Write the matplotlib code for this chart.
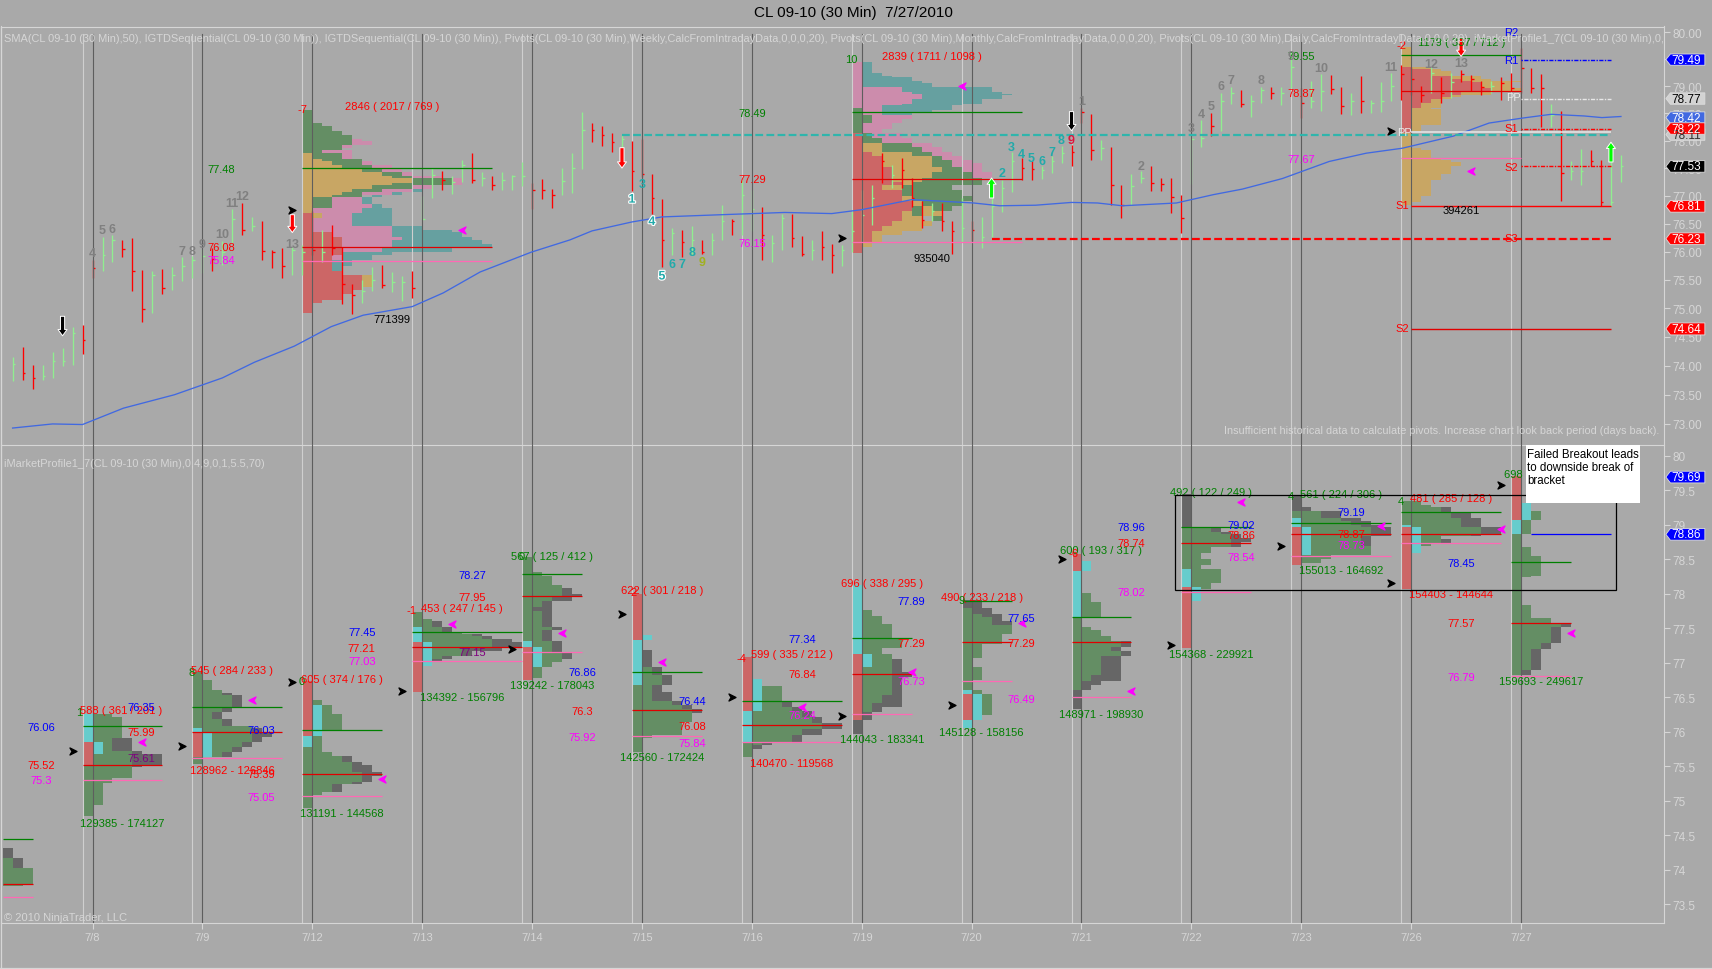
# =====================================================
# CL 09-10 (30 Min) chart with market profiles
# =====================================================

import matplotlib
matplotlib.use("Agg")
import matplotlib.pyplot as plt
import matplotlib.patheffects as pe
from matplotlib.lines import Line2D
from matplotlib.path import Path
from matplotlib.patches import Polygon, Rectangle
from matplotlib.ticker import NullLocator

plt.rcParams['font.family'] = ['Liberation Sans', 'DejaVu Sans']

# =====================================================
# Data: 30 min bars (bar index = position in the list)
# =====================================================

bar_high = [74.15, 74.33, 74.01, 74.01, 74.23, 74.30, 74.68, 74.70, 75.86, 76.27, 76.29, 76.21, 76.24, 75.67, 75.66,
            75.69, 75.72, 75.90, 75.93, 76.05, 76.06, 76.19, 76.76, 76.87, 76.62, 76.54, 76.03, 76.07, 76.09, 76.12,
            76.72, 76.39, 76.47, 76.09, 75.42, 75.50, 75.72, 75.77, 75.64, 75.57, 75.65, 76.99, 77.50, 77.44, 77.35,
            77.64, 77.77, 77.43, 77.35, 77.43, 77.38, 77.61, 77.23, 77.31, 77.12, 77.51, 77.77, 78.53, 78.32, 78.26,
            78.14, 78.11, 78.00, 78.03, 77.40, 76.94, 76.42, 76.38, 76.45, 76.21, 76.33, 76.83, 76.59, 77.29, 77.11,
            76.79, 76.30, 76.67, 76.67, 76.28, 76.21, 76.36, 76.13, 76.12, 76.72, 77.11, 77.20, 77.77, 77.56, 77.69,
            77.32, 76.90, 76.87, 76.87, 76.54, 76.96, 76.54, 76.61, 76.96, 77.29, 77.80, 77.68, 77.62, 77.53, 77.71,
            77.91, 77.92, 78.59, 78.48, 78.01, 77.89, 77.19, 77.40, 77.44, 77.53, 77.32, 77.32, 77.02, 78.08, 78.37,
            78.50, 78.88, 78.98, 78.92, 78.83, 78.98, 78.98, 78.98, 79.63, 78.96, 79.10, 79.22, 79.20, 78.99, 78.88,
            79.19, 78.74, 79.08, 79.25, 79.39, 79.36, 79.01, 79.36, 79.17, 79.24, 79.30, 79.20, 79.09, 79.09, 79.17,
            79.25, 79.71, 79.33, 79.22, 78.67, 78.55, 77.63, 77.84, 77.82, 77.65, 77.61, 77.73]
bar_low = [73.73, 73.75, 73.60, 73.75, 73.78, 73.99, 74.02, 74.21, 75.54, 75.65, 75.82, 75.90, 75.30, 74.76, 74.92,
           75.25, 75.33, 75.48, 75.54, 75.62, 75.66, 75.77, 76.16, 76.29, 76.37, 75.86, 75.71, 75.54, 75.59, 75.59,
           75.94, 75.82, 75.94, 75.08, 74.90, 75.09, 75.30, 75.36, 75.28, 75.12, 75.19, 76.59, 76.96, 77.10, 77.04,
           77.25, 77.23, 77.18, 77.11, 77.11, 77.11, 77.17, 76.77, 76.95, 76.78, 77.02, 77.05, 77.48, 77.97, 77.90,
           77.80, 77.86, 77.08, 77.34, 76.67, 75.72, 75.94, 75.91, 75.94, 75.95, 75.94, 76.20, 76.29, 76.30, 76.36,
           75.86, 75.82, 76.03, 76.08, 75.93, 75.86, 75.86, 75.62, 75.75, 76.00, 76.18, 76.48, 77.23, 77.14, 77.14,
           76.79, 76.42, 76.54, 76.36, 75.96, 76.18, 76.19, 76.06, 76.27, 76.71, 77.07, 77.29, 77.29, 77.31, 77.41,
           77.59, 77.54, 78.32, 77.64, 77.65, 76.84, 76.60, 76.83, 77.23, 77.09, 77.09, 76.69, 76.33, 77.21, 77.88,
           78.09, 78.18, 78.67, 78.61, 78.43, 78.69, 78.76, 78.66, 78.96, 78.41, 78.59, 78.55, 78.85, 78.49, 78.47,
           78.50, 78.50, 78.53, 78.72, 78.75, 78.84, 78.70, 78.87, 78.68, 78.78, 79.08, 78.90, 78.84, 78.87, 78.74,
           78.90, 78.87, 78.88, 78.24, 78.24, 76.91, 77.29, 77.20, 77.53, 76.81, 76.81, 77.24]
bar_close = [74.03, 73.88, 73.78, 73.82, 74.08, 74.09, 74.56, 74.44, 75.71, 75.94, 76.20, 76.05, 75.65, 74.98, 75.58,
             75.35, 75.58, 75.75, 75.86, 75.93, 75.87, 76.00, 76.58, 76.38, 76.45, 76.02, 76.00, 75.74, 76.03, 76.00,
             76.03, 76.00, 76.06, 75.42, 75.24, 75.30, 75.50, 75.41, 75.47, 75.47, 75.35, 76.59, 77.38, 77.28, 77.25,
             77.56, 77.29, 77.32, 77.20, 77.29, 77.35, 77.35, 77.10, 77.10, 77.01, 77.26, 77.50, 78.19, 78.20, 78.11,
             77.98, 78.02, 77.44, 77.39, 76.96, 76.21, 76.33, 76.18, 76.21, 76.00, 76.21, 76.54, 76.54, 77.02, 76.77,
             76.30, 76.15, 76.60, 76.24, 75.95, 76.03, 76.09, 75.94, 76.03, 76.36, 76.66, 76.96, 77.62, 77.38, 77.47,
             76.96, 76.57, 76.72, 76.54, 76.36, 76.42, 76.38, 76.27, 76.81, 77.14, 77.62, 77.50, 77.48, 77.47, 77.63,
             77.77, 77.80, 78.53, 77.82, 77.86, 77.19, 76.83, 77.17, 77.32, 77.23, 77.21, 76.97, 76.60, 78.02, 78.05,
             78.26, 78.72, 78.87, 78.67, 78.72, 78.92, 78.87, 78.88, 79.35, 78.69, 78.72, 78.90, 78.95, 78.63, 78.72,
             78.72, 78.69, 78.72, 79.01, 79.22, 79.14, 78.84, 79.24, 78.88, 79.08, 79.22, 79.14, 78.99, 79.01, 79.05,
             78.97, 79.33, 78.96, 78.96, 78.47, 77.41, 77.44, 77.44, 77.62, 76.89, 76.89, 77.53]
bar_dir = ("grrggggrrg" "grrrgrgggg" "rggrgrrrgg" "rgrrrggrgg" "rggrggrgrg" "ggrrrgggrr" "rgrrrrgrgr" "ggrggrggrr"
           "grrggggrgr" "rrgrrgrggg" "grrgggrrrg" "rrggrrrrgg" "rggrggrggr" "ggrrgrgggr" "rrgrgrrrgr" "rrrrgrggrr" "gg")

sma_bar = [0, 4, 7, 11.1, 16.2, 21, 24.2, 28.2, 31.9, 35.1, 40, 43.1, 46.8, 51.9, 55.8, 58, 62, 65, 71, 77.3, 82, 85,
           90, 92.2, 96.2, 98.8, 102.4, 106, 108.6, 111.1, 116.5, 120.2, 123.1, 127.1, 131.8, 135.5, 139.1, 144.2,
           147.8, 151.1, 154, 157.3, 159.1, 161]
sma_val = [72.93, 73.00, 72.99, 73.27, 73.50, 73.79, 74.06, 74.34, 74.68, 74.88, 75.03, 75.27, 75.64, 75.99, 76.21,
           76.37, 76.53, 76.62, 76.66, 76.70, 76.68, 76.75, 76.93, 76.91, 76.87, 76.82, 76.83, 76.88, 76.87, 76.82,
           76.87, 77.02, 77.12, 77.31, 77.62, 77.77, 77.86, 78.08, 78.32, 78.41, 78.48, 78.45, 78.42, 78.44]

# dark line = first bar of the day, light line = the bar before it
day_labels = ['7/8', '7/9', '7/12', '7/13', '7/14', '7/15', '7/16', '7/19', '7/20', '7/21', '7/22', '7/23', '7/26',
              '7/27']
day_start = [7, 18, 29, 40, 51, 62, 73, 84, 95, 106, 117, 128, 139, 150]

# =====================================================
# Data: profiles. levels are price edges, each string is
# one row, each letter one column of the histogram
# ('.' leaves a column empty)
# =====================================================

comp1_levels = [78.56, 78.33, 78.27, 78.17, 78.10, 78.03, 78.00, 77.92, 77.86, 77.83, 77.77, 77.67, 77.62, 77.55,
                77.49, 77.42, 77.36, 77.32, 77.23, 77.19, 77.12, 77.06, 77.02, 76.98, 76.85, 76.78, 76.69, 76.60,
                76.45, 76.39, 76.35, 76.26, 76.21, 76.14, 76.08, 76.00, 75.94, 75.86, 75.75, 75.65, 75.58, 75.37,
                75.33, 75.25, 75.15, 75.09, 74.91]
comp1_rows = ["G", "GG", "GGG", "GGGG", "GGGGG", "GGGGGP", "GGGGGPP", "GGGGP", "GGGG", "GGPPP", "TGGGP", "TTGGGG",
              "TTTGGGP", "TTTTGGGPP", "TTTTTTGGPP", "TTTTTTTTGGP", "TTTTTTTTTGGPPP", "TTTTTTTTTTTGGGGP",
              "TTTTTTTTTGGGGGGP", "TTTTTTTGGGGPP", "TTTTTGGGPPPA", "TTTTGGPPPA", "TTTGGG.A", "TGGPPPA", "TGGPPPPA",
              "TPPPPPAAA", "RTPPPAAAA", "RPPPPAAAA", "RPPPPPPPPAAA", "RPPPPPPPPAAAAAA", "RRRPPPPPPAAAAAAA",
              "RRRRPPPPPPAAAAAAA", "RRRRPPPPPAAAAAAAAA", "RRRRPPPPPAAAAAAAAAA", "RRRRPPPPAAAAAAA", "RRRRAAAAA",
              "RRRPAAA", "RRRAA", "RRRA", "RRRR", "RRRRRRT", "RRRRRR", "RRRRR", "RRRR", "RR", "R"]

comp2_levels = [79.44, 79.24, 79.19, 79.17, 79.10, 79.05, 78.99, 78.89, 78.86, 78.84, 78.76, 78.67, 78.65, 78.60,
                78.56, 78.50, 78.47, 78.40, 78.33, 78.22, 78.13, 78.04, 77.96, 77.89, 77.80, 77.71, 77.65, 77.59,
                77.52, 77.42, 77.32, 77.24, 77.19, 77.10, 76.99, 76.90, 76.81, 76.72, 76.63, 76.54, 76.45, 76.36,
                76.30, 76.18, 76.09, 75.97]
comp2_rows = ["PA", "PAA", "PAAA", "PAAAAA", "PAAAAAA", "PAAAAAAA", "PPPPPAAAAAAAAA", "PPPPPPAAAAAAAAA",
              "PPPPPPPAAAAAAAAA", "PPPPPPPAAAAAAAA", "PPPPPPAAAAAAA", "PPPPPAAAAAA", "PPPAAAAAAA", "GPPAAAAAAA",
              "GPPAAAAA", "GPPAAA", "GGPPPP", "GGPPP", "GPPP", "GPP", "RGPPP", "RGGPPP", "RTTGGGPP", "RTTGGGGPP",
              "RRTTTTGGPP", "RRRTTTTTGPP", "RRRTTTTTGGPP", "RRRTTTTTGGPPP", "RRRRTTTTTGGPP", "RRRRTTTTGGGGPP",
              "RRRRTTTGGGGGG", "RRRRRTGGGGGGG", "RRRTTGGGGG", "RRRRRGGGGGG", "RRRRRTGGGGGG", "RRRRRRTGGGG", "RRRRRRGTGG",
              "RRRRRTGTT", "RRRRRTT.G", "RRRRTTTT", "RRRTTTT", "RRTTT", "RRT", "RT", "R"]

comp3_levels = [79.72, 79.36, 79.31, 79.27, 79.19, 79.14, 79.10, 79.07, 78.96, 78.89, 78.84, 78.79, 78.76, 78.69,
                78.60, 78.57, 78.29, 78.17, 78.14, 77.86, 77.83, 77.69, 77.65, 77.61, 77.54, 77.39, 77.29, 76.99,
                76.89, 76.84]
comp3_rows = ["T", "RTT", "RRRT", "RRRTT", "RRRRRTTT", "RRRRRRTTT", "RRRRRRRTTTTT", "RRRRRRRRTTT", "RRRRRRRRRTTT",
              "RRRRRRTTT", "RRRRRT", "RRRRT", "RRRT", "RRTT", "RTT", "RTTT", "RT", "R", "T", "TT", "TTT", "TTTT", "TTTTT",
              "TTTTTT", "TTTTT", "TTTT", "TTT", "TT", "T"]

p0707_levels = [74.31, 74.17, 74.03, 74.00, 73.79, 73.76]
p0707_rows = ["K", "GK", "GGG", "GGG", "GG"]

p0708_levels = [76.26, 76.21, 76.08, 75.91, 75.85, 75.72, 75.67, 75.52, 75.49, 75.33, 75.26, 74.93, 74.77]
p0708_rows = ["CGG", "CGGG", "CGGG", "CGGKK", "RCGKK", "RCGGGK", "RGGGGKKK", "GGGGGK", "GGGGG", "GGG", "GG", "G"]

p0709_levels = [76.87, 76.75, 76.60, 76.56, 76.53, 76.36, 76.29, 76.19, 76.08, 76.05, 76.00, 75.92, 75.85, 75.78,
                75.70, 75.63, 75.53]
p0709_rows = ["G", "GG", "GGG", "GGGK", "GGGGK", "GGGK", "GGK", "GGGK", "GGGGGG", "CGGGGGK", "RCGGGGKK", "RCGGGGK",
              "RCGGGK", "RCGGK", "RCGK", "G"]

p0712_levels = [76.73, 76.46, 76.38, 76.25, 76.01, 75.94, 75.78, 75.71, 75.64, 75.56, 75.52, 75.41, 75.36, 75.27,
                75.24, 75.12, 75.08, 74.89]
p0712_rows = ["R", "RG", "RCG", "RCGG", "RC", "CG", "GG", "GGG", "GGGGK", "GGGGGK", "GGGGGKK", "GGGGGGKK", "GGGGGGK",
              "GGGGGK", "GGGK", "GG", "G"]

p0713_levels = [77.74, 77.63, 77.61, 77.51, 77.45, 77.41, 77.38, 77.34, 77.30, 77.22, 77.17, 77.10, 77.06, 77.01,
                76.95, 76.58]
p0713_rows = ["G", "GG", "GGK", "CGGK", "CGGGG", "CGGGGGK", "CGGGGGGK", "CGGGGGGGKK", "RCGGGGGGKKK", "RCGGGKKKK",
              "RCGGGK", "RCGK", "RCK", "RC", "R"]

p0714_levels = [78.53, 78.32, 78.25, 78.13, 78.08, 77.99, 77.95, 77.89, 77.81, 77.75, 77.51, 77.47, 77.32, 77.23,
                77.16, 77.06, 77.01, 76.94, 76.78, 76.75]
p0714_rows = ["G", "GG", "GGG", "GGGG", "GGGGK", "GGGGKK", "GGGKK", "GGK", "GKK", "GGK", "GGGK", "GGK", "CGGK", "RCGK",
              "RCGGK", "RCGG", "RCG", "RG", "R"]

p0715_levels = [78.00, 77.40, 77.33, 77.18, 76.94, 76.82, 76.67, 76.58, 76.44, 76.39, 76.33, 76.27, 76.14, 75.95,
                75.91, 75.70]
p0715_rows = ["R", "RC", "C", "CK", "CGK", "CGGK", "GGK", "GGKK", "GGGGK", "GGGGGK", "GGGGGGK", "GGGGGG", "GGGGG",
              "GG", "G"]

p0716_levels = [77.08, 76.77, 76.66, 76.45, 76.36, 76.30, 76.21, 76.13, 76.04, 75.95, 75.85, 75.81, 75.75, 75.63]
p0716_rows = ["R", "RC", "RCGG", "RCGGK", "RCGGGK", "CGGGGGK", "CGGGGGGK", "CGGGGGGGKK", "CGGGGGKK", "CGGGGK", "GGK",
              "GK", "G"]

p0719_levels = [78.13, 77.76, 77.68, 77.56, 77.34, 77.21, 77.12, 77.06, 76.93, 76.86, 76.79, 76.53, 76.41, 76.36,
                76.29, 76.17, 75.97]
p0719_rows = ["C", "CG", "CGG", "CGGG", "CGGGG", "CGG", "RCGG", "RCGGK", "RGGGK", "RGGGKK", "RGGGK", "RGGKK", "RGKKK",
              "RGK", "RK", "K"]

p0720_levels = [77.91, 77.79, 77.71, 77.66, 77.60, 77.55, 77.42, 77.27, 77.07, 76.94, 76.75, 76.60, 76.54, 76.24,
                76.17, 76.05]
p0720_rows = ["KK", "GKK", "GGKK", "GGGK", "GGGKK", "GGGGG", "GGGG", "GG", "G", "GG", "G", "CG", "RCG", "RC", "C"]

p0721_levels = [78.58, 78.47, 78.33, 78.01, 77.88, 77.66, 77.52, 77.48, 77.39, 77.32, 77.23, 77.17, 77.09, 76.82,
                76.73, 76.68, 76.60, 76.33]
p0721_rows = ["R", "RC", "C", "CG", "CGG", "G", "GG", "GGG", "GGGG", "GGGGGK", "GGGGK", "GGGGGK", "GGGKK", "GGKKK",
              "GKK", "GK", "K"]

p0722_levels = [79.44, 78.97, 78.95, 78.90, 78.86, 78.80, 78.75, 78.67, 78.59, 78.50, 78.41, 78.36, 78.16, 78.10,
                78.07, 77.89, 77.21]
p0722_rows = ["K", "GG", "GGGK", "GGGGK", "GGGGGK", "GGGGGKK", "GGGGGK", "GGG", "GG", "GGG", "GG", "CGGG", "CGG", "RCG",
              "RC", "R"]

p0723_levels = [79.43, 79.25, 79.20, 79.10, 79.06, 79.00, 78.97, 78.83, 78.69, 78.56, 78.50, 78.45, 78.42]
p0723_rows = ["K", "KK", "GGGKK", "CGGGGKK", "CGGGGGKK", "CGGGGGGKK", "RCGGGGGGKK", "RCGGGGGK", "RCGGGGGG", "RGGG",
              "RGG", "R"]

p0726_levels = [79.34, 79.28, 79.25, 79.17, 79.10, 79.00, 78.97, 78.87, 78.83, 78.79, 78.74, 78.69, 78.59, 78.07]
p0726_rows = ["GG", "GGG", "GGGGK", "GGGGGKK", "GGGGGGKK", "CGGGGGKK", "RCGGGGGGKK", "RCGGGGGK", "RCGG", "RCGGK", "RCG",
              "RC", "R"]

p0727_levels = [79.70, 79.32, 79.20, 79.07, 78.87, 78.67, 78.54, 78.26, 78.24, 77.84, 77.65, 77.58, 77.51, 77.29,
                77.20, 76.89, 76.82]
p0727_rows = ["R", "RC", "RCG", "CG", "G", "GG", "GGG", "GG", "G", "GG", "GGGG", "GGGGGK", "GGGGK", "GGGK", "GGK", "GK"]

profile_colors = {'G': '#648E64', 'K': '#666666', 'R': '#CC6666', 'C': '#66CCCC',
                  'T': '#C8A664', 'P': '#CC8CAC', 'A': '#66A0A0'}

# start bar, bars wide, green, red, pink price of each day profile
top_lines = [(29, 19, 77.51, 76.08, 75.84), (84, 17, 78.52, 77.31, 76.18), (139, 12, 79.57, 78.90, 77.69)]
day_widths = [8, 9, 8, 11, 6, 7, 10, 6, 5, 6, 7, 10, 10, 6]
day_green = [76.08, 76.36, 76.03, 77.45, 78.28, 76.87, 76.45, 77.35, 77.90, 77.66, 78.97, 79.02, 79.19, 78.46]
day_red = [75.52, 76.00, 75.39, 77.22, 77.96, 76.31, 76.09, 76.84, 77.30, 77.30, 78.74, 78.86, 78.87, 77.58]
day_pink = [75.30, 75.62, 75.06, 77.03, 77.16, 75.93, 75.85, 76.25, 76.74, 76.50, 78.03, 78.54, 78.73, 76.80]

# =====================================================
# Data: text labels (text, colour key, bar, price)
# =====================================================

label_colors = {'g': '#008000', 'r': '#FF0000', 'b': '#0000FF', 'm': '#FF00FF', 'k': '#000000', 'u': '#800080',
                'w': '#E8E8E8'}

top_labels = [("-7", 'r', 29, 78.58), ("2846 ( 2017 / 769 )", 'r', 38, 78.64), ("77.48", 'g', 20.9, 77.49),
              ("76.08", 'r', 20.9, 76.09), ("75.84", 'm', 20.9, 75.85), ("771399", 'k', 38, 74.82),
              ("10", 'g', 84, 79.50), ("2839 ( 1711 / 1098 )", 'r', 92, 79.55), ("78.49", 'g', 74, 78.50),
              ("77.29", 'r', 74, 77.30), ("76.15", 'm', 74, 76.16), ("935040", 'k', 92, 75.89),
              ("-2", 'r', 139, 79.77), ("1179 ( 337 / 712 )", 'g', 145.1, 79.82), ("79.55", 'g', 129, 79.55),
              ("78.87", 'r', 129, 78.88), ("77.67", 'm', 129, 77.67), ("394261", 'k', 145, 76.75),
              ("R2", 'b', 150, 80.00), ("R1", 'b', 150, 79.49), ("PP", 'w', 150.2, 78.80), ("S1", 'r', 150, 78.23),
              ("S2", 'r', 150, 77.52), ("S3", 'r', 150, 76.24), ("PP", 'w', 139.3, 78.15), ("S1", 'r', 139.1, 76.83),
              ("S2", 'r', 139.1, 74.65)]

bottom_labels = [("76.06", 'b', 2.9, 76.07), ("75.52", 'r', 2.9, 75.51), ("75.3", 'm', 2.9, 75.30),
                 ("1", 'g', 6.7, 76.29), ("588 ( 361 / 201 )", 'r', 10.9, 76.31), ("76.35", 'b', 12.9, 76.35),
                 ("75.99", 'r', 12.9, 75.99), ("75.61", 'u', 12.9, 75.62), ("129385 - 174127", 'g', 11, 74.68),
                 ("8", 'g', 17.9, 76.87), ("545 ( 284 / 233 )", 'r', 22, 76.89), ("76.03", 'b', 24.9, 76.02),
                 ("75.39", 'r', 24.9, 75.38), ("75.05", 'm', 24.9, 75.05), ("128962 - 126846", 'r', 22, 75.45),
                 ("0", 'g', 28.9, 76.73), ("605 ( 374 / 176 )", 'r', 33, 76.76), ("77.45", 'b', 35, 77.44),
                 ("77.21", 'r', 34.9, 77.21), ("77.03", 'm', 35, 77.02), ("131191 - 144568", 'g', 33, 74.82),
                 ("-1", 'r', 39.9, 77.76), ("453 ( 247 / 145 )", 'r', 45, 77.79), ("78.27", 'b', 46, 78.27),
                 ("77.95", 'r', 46, 77.95), ("77.15", 'u', 46, 77.15), ("134392 - 156796", 'g', 45, 76.50),
                 ("0", 'g', 51, 78.55), ("567 ( 125 / 412 )", 'g', 54, 78.55), ("139242 - 178043", 'g', 54, 76.67),
                 ("76.86", 'b', 57, 76.86), ("76.3", 'r', 57, 76.30), ("75.92", 'm', 57, 75.92),
                 ("2", 'r', 62.2, 78.03), ("622 ( 301 / 218 )", 'r', 65, 78.05), ("76.44", 'b', 68, 76.44),
                 ("76.08", 'r', 68, 76.08), ("75.84", 'm', 68, 75.83), ("142560 - 172424", 'g', 65, 75.63),
                 ("-4", 'r', 73, 77.07), ("599 ( 335 / 212 )", 'r', 78, 77.12), ("77.34", 'b', 79, 77.34),
                 ("76.84", 'r', 79, 76.83), ("76.24", 'm', 79, 76.24), ("140470 - 119568", 'r', 78, 75.54),
                 ("696 ( 338 / 295 )", 'r', 87, 78.15), ("77.89", 'b', 90, 77.89), ("77.29", 'r', 90, 77.28),
                 ("76.73", 'm', 90, 76.73), ("144043 - 183341", 'g', 87, 75.89), ("490 ( 233 / 218 )", 'r', 97, 77.95),
                 ("9", 'g', 95, 77.91), ("77.65", 'b', 101, 77.64), ("77.29", 'r', 101, 77.28),
                 ("76.49", 'm', 101, 76.48), ("145128 - 158156", 'g', 97, 75.99), ("600 ( 193 / 317 )", 'g', 109, 78.63),
                 ("-6", 'r', 106.2, 78.59), ("78.96", 'b', 112, 78.96), ("78.74", 'r', 112, 78.73),
                 ("78.02", 'm', 112, 78.02), ("148971 - 198930", 'g', 109, 76.26), ("492 ( 122 / 249 )", 'g', 120, 79.47),
                 ("79.02", 'b', 123, 79.00), ("78.86", 'r', 123, 78.85), ("78.54", 'm', 123, 78.53),
                 ("154368 - 229921", 'g', 120, 77.12), ("4", 'g', 128, 79.42), ("561 ( 224 / 306 )", 'g', 133, 79.44),
                 ("79.19", 'b', 134, 79.18), ("78.87", 'r', 134, 78.86), ("78.73", 'm', 134, 78.71),
                 ("155013 - 164692", 'g', 133, 78.34), ("4", 'g', 139, 79.35), ("481 ( 285 / 128 )", 'r', 144, 79.38),
                 ("78.45", 'b', 145, 78.44), ("77.57", 'r', 145, 77.57), ("76.79", 'm', 145, 76.79),
                 ("154403 - 144644", 'r', 144, 77.99), ("698 (", 'g', 150.6, 79.74), ("159693 - 249617", 'g', 153, 76.73)]

# TD sequential counts (text, colour, bar, price)
td_gray = '#808080'
td_teal = '#22AAAA'
td_counts = [("4", td_gray, 8, 75.97), ("5", td_gray, 9, 76.39), ("6", td_gray, 10, 76.40), ("7", td_gray, 17, 76.02),
             ("8", td_gray, 18, 76.02), ("9", td_gray, 19, 76.13), ("10", td_gray, 21, 76.31), ("11", td_gray, 22, 76.87),
             ("12", td_gray, 23, 76.99), ("13", td_gray, 28, 76.13), ("1", 'white', 62, 76.93), ("3", td_teal, 63, 77.21),
             ("4", 'white', 64, 76.53), ("5", 'white', 65, 75.56), ("6", td_teal, 66, 75.79), ("7", td_teal, 67, 75.78),
             ("8", td_teal, 68, 75.99), ("9", '#A0B020', 69, 75.82), ("2", td_teal, 99, 77.41), ("3", td_teal, 100, 77.88),
             ("4", td_teal, 101, 77.75), ("5", td_teal, 102, 77.68), ("6", td_teal, 103, 77.62), ("7", td_teal, 104, 77.79),
             ("8", td_teal, 105, 78.01), ("9", '#DC143C', 106, 78.01), ("1", td_gray, 107, 78.72), ("2", td_gray, 113, 77.54),
             ("3", td_gray, 118, 78.23), ("4", td_gray, 119, 78.48), ("5", td_gray, 120, 78.63), ("6", td_gray, 121, 79.00),
             ("7", td_gray, 122, 79.11), ("8", td_gray, 125, 79.11), ("9", td_gray, 128, 79.55), ("10", td_gray, 131, 79.33),
             ("11", td_gray, 138, 79.36), ("12", td_gray, 142, 79.40), ("13", td_gray, 145, 79.42)]

# big arrows (bar, tail price, tip price, colour)
big_arrows = [(5, 74.86, 74.52, 'black'), (28, 76.66, 76.34, 'red'), (61, 77.87, 77.50, 'red'), (98, 76.96, 77.32, 'lime'),
              (106, 78.53, 78.18, 'black'), (145, 79.89, 79.55, 'red'), (160, 77.61, 77.97, 'lime')]

# small arrow heads
top_black_bar = [28, 83, 138]
top_black_price = [76.75, 76.24, 78.17]
top_magenta_bar = [45, 95, 146]
top_magenta_price = [76.38, 79.00, 77.45]
bottom_black_bar = [6, 17, 28, 39, 50, 61, 72, 83, 94, 105, 116, 127, 138, 149]
bottom_black_price = [75.72, 75.79, 76.72, 76.59, 77.20, 77.70, 76.50, 76.23, 76.38, 78.50, 77.26, 78.69, 78.16, 79.58]
bottom_magenta_bar = [13, 24, 37, 44, 55, 65, 79, 90, 101, 112, 123, 137, 149, 156]
bottom_magenta_price = [75.85, 76.46, 75.32, 77.56, 77.43, 77.01, 76.36, 76.87, 77.57, 76.59, 79.33, 78.98, 78.94, 77.43]

# price tags on the right side (value, background, text colour)
top_tags = [(78.11, '#C8C8C8', '#303030'), (79.49, '#0000FF', 'white'), (78.77, '#D3D3D3', 'black'),
            (78.42, '#4169E1', 'white'), (78.22, '#FF0000', 'white'), (77.53, '#000000', 'white'),
            (76.81, '#FF0000', 'white'), (76.23, '#FF0000', 'white'), (74.64, '#FF0000', 'white')]
bottom_tags = [(79.69, '#0000FF', 'white'), (78.86, '#0000FF', 'white')]

top_ticks = [80, 79.5, 79, 78.5, 78, 77.5, 77, 76.5, 76, 75.5, 75, 74.5, 74, 73.5, 73]
bottom_ticks = [80, 79.5, 79, 78.5, 78, 77.5, 77, 76.5, 76, 75.5, 75, 74.5, 74, 73.5]

top_legend = ("SMA(CL 09-10 (30 Min),50), IGTDSequential(CL 09-10 (30 Min)), IGTDSequential(CL 09-10 (30 Min)), "
              "Pivots(CL 09-10 (30 Min),Weekly,CalcFromIntradayData,0,0,0,20), "
              "Pivots(CL 09-10 (30 Min),Monthly,CalcFromIntradayData,0,0,0,20), "
              "Pivots(CL 09-10 (30 Min),Daily,CalcFromIntradayData,0,0,0,20), iMarketProfile1_7(CL 09-10 (30 Min),0,4,9,0,1,5.5,70)")
bottom_legend = "iMarketProfile1_7(CL 09-10 (30 Min),0,4,9,0,1,5.5,70)"
note_text = "Failed Breakout leads\nto downside break of\nbracket"

# =====================================================
# Figure and axes
# =====================================================

BG = '#A9A9A9'
LIGHT = '#D6D6D6'

fig = plt.figure(figsize=(17.12, 9.70), dpi=100, facecolor=BG)
ax_top = fig.add_axes([1 / 1712, (970 - 445.5) / 970, 1662.6 / 1712, 418 / 970], facecolor=BG)
ax_bot = fig.add_axes([1 / 1712, (970 - 924.4) / 970, 1662.6 / 1712, 478.4 / 970], facecolor=BG)

ax_top.set_yscale('log')
for ax in (ax_top, ax_bot):
    ax.set_xlim(-1.161, 165.27)
    for spine in ax.spines.values():
        spine.set_color(LIGHT)
ax_top.set_ylim(72.65, 80.108)
ax_bot.set_ylim(73.22, 80.155)
ax_top.spines['bottom'].set_visible(False)


# =====================================================
# Helpers
# =====================================================

def draw_profile(ax, start, levels, rows):
    cells = {}
    for i, row in enumerate(rows):
        for j, code in enumerate(row):
            if code == '.':
                continue
            cells.setdefault(code, []).append((start + j, levels[i + 1], levels[i] - levels[i + 1]))
    for code, items in cells.items():
        ax.bar([c[0] for c in items], [c[2] for c in items], bottom=[c[1] for c in items], width=1, align='edge',
               color=profile_colors[code], linewidth=0, antialiased=False, zorder=2)


def draw_labels(ax, labels):
    for text, color, x, y in labels:
        ax.text(x, y, text, color=label_colors[color], fontsize=8, ha='center', va='center', zorder=6)


def draw_tags(ax, tags, half):
    for value, back, fore in tags:
        ax.add_patch(Polygon([(165.5, value), (165.95, value + half), (169.4, value + half), (169.4, value - half),
                              (165.95, value - half)], closed=True, facecolor=back, edgecolor='#DDDDDD', linewidth=0.6,
                             clip_on=False, zorder=7))
        ax.text(167.55, value, f"{value:.2f}", color=fore, fontsize=8.5, ha='center', va='center', clip_on=False,
                zorder=8)


head = Path([(-1, 1), (1, 0), (-1, -1), (-0.4, 0), (-1, 1)],
            [Path.MOVETO, Path.LINETO, Path.LINETO, Path.LINETO, Path.CLOSEPOLY])
head_left = Path([(1, 1), (-1, 0), (1, -1), (0.4, 0), (1, 1)],
                 [Path.MOVETO, Path.LINETO, Path.LINETO, Path.LINETO, Path.CLOSEPOLY])

# =====================================================
# Top panel
# =====================================================

draw_profile(ax_top, 29, comp1_levels, comp1_rows)
draw_profile(ax_top, 84, comp2_levels, comp2_rows)
draw_profile(ax_top, 139, comp3_levels, comp3_rows)

for i, day in enumerate(day_start):
    for ax, top in ((ax_top, 0.982), (ax_bot, 1)):
        ax.axvline(day, ymax=top, color='#CFCFCF', lw=0.8, zorder=2.5)
        ax.axvline(day + 1, ymax=top, color='#5E5E5E', lw=0.8, zorder=3.5)

for k, (high, low, close) in enumerate(zip(bar_high, bar_low, bar_close)):
    color = '#90EE90' if bar_dir[k] == 'g' else '#FF0000'
    ax_top.vlines(k, low, high, color=color, lw=0.95, zorder=3)
    ax_top.hlines(close, k, k + 0.25, color=color, lw=0.95, zorder=3)

for start, wide, green, red, pink in top_lines:
    ax_top.hlines(green, start, start + wide, color='#008000', lw=0.9, zorder=4)
    ax_top.hlines(red, start, start + wide, color='#E00000', lw=0.9, zorder=4)
    ax_top.hlines(pink, start, start + wide, color='#FF69B4', lw=0.9, zorder=4)

ax_top.plot(sma_bar, sma_val, color='#4169E1', lw=0.95, zorder=4)

# pivots
ax_top.hlines(78.10, 61, 160, color='#2FB5AC', lw=1.6, linestyles=(0, (3.5, 1.5)), zorder=4)
ax_top.hlines(76.23, 98, 160, color='#FF0000', lw=1.6, linestyles=(0, (3.5, 1.5)), zorder=4)
ax_top.hlines(78.15, 140, 160, color='#E8E8E8', lw=1.1, zorder=4)
ax_top.hlines(76.81, 140, 160, color='#FF0000', lw=1, zorder=4)
ax_top.hlines(74.64, 140, 160, color='#E00000', lw=1, zorder=4)
ax_top.hlines(79.49, 151, 160, color='#0000FF', lw=1, linestyles=(0, (1, 1, 3, 1)), zorder=4)
ax_top.hlines(78.77, 151, 160, color='#E8E8E8', lw=1, linestyles=(0, (1, 1, 3, 1)), zorder=4)
ax_top.hlines(78.22, 151, 160, color='#FF0000', lw=1, linestyles=(0, (1, 1, 3, 1)), zorder=4)
ax_top.hlines(77.53, 151, 160, color='#FF0000', lw=1, linestyles=(0, (1, 1, 3, 1)), zorder=4)

for bar, tail, tip, color in big_arrows:
    ax_top.annotate('', xy=(bar, tip), xytext=(bar, tail), zorder=5,
                    arrowprops=dict(arrowstyle='simple,head_length=0.45,head_width=0.65,tail_width=0.3', mutation_scale=10,
                                    facecolor=color, edgecolor='white', lw=0.7, shrinkA=0, shrinkB=0))

ax_top.plot(top_black_bar, top_black_price, ls='none', marker=head, ms=5, color='black', zorder=5)
ax_top.plot(top_magenta_bar, top_magenta_price, ls='none', marker=head_left, ms=5, color='#FF00FF', zorder=5)

draw_labels(ax_top, top_labels)
for text, color, x, y in td_counts:
    if color == 'white':
        ax_top.text(x, y, text, color=td_teal, fontsize=9, fontweight='bold', ha='center', va='center', zorder=6,
                    path_effects=[pe.withStroke(linewidth=1.6, foreground='white')])
    else:
        ax_top.text(x, y, text, color=color, fontsize=9, fontweight='bold', ha='center', va='center', zorder=6)

ax_top.text(3 / 1662.6, 0.9725, top_legend, transform=ax_top.transAxes, color=LIGHT, fontsize=7.9, ha='left', va='center',
            clip_on=True, zorder=6)
ax_top.text(0.9976, 0.035, "Insufficient historical data to calculate pivots. Increase chart look back period (days back).",
            transform=ax_top.transAxes, color=LIGHT, fontsize=7.87, ha='right', va='center', zorder=6)

draw_tags(ax_top, top_tags, 0.105)

ax_top.set_xticks([])
ax_top.set_yticks(top_ticks, [f"{t:.2f}" for t in top_ticks])
ax_top.yaxis.set_minor_locator(NullLocator())
ax_top.yaxis.tick_right()
ax_top.tick_params(axis='y', length=4.3, width=0.8, color=LIGHT, labelcolor=LIGHT, labelsize=8.5, pad=2)

# =====================================================
# Bottom panel
# =====================================================

draw_profile(ax_bot, -1, p0707_levels, p0707_rows)
day_profiles = [(p0708_levels, p0708_rows), (p0709_levels, p0709_rows), (p0712_levels, p0712_rows),
                (p0713_levels, p0713_rows), (p0714_levels, p0714_rows), (p0715_levels, p0715_rows),
                (p0716_levels, p0716_rows), (p0719_levels, p0719_rows), (p0720_levels, p0720_rows),
                (p0721_levels, p0721_rows), (p0722_levels, p0722_rows), (p0723_levels, p0723_rows),
                (p0726_levels, p0726_rows), (p0727_levels, p0727_rows)]
for day, (levels, rows) in zip(day_start, day_profiles):
    draw_profile(ax_bot, day, levels, rows)

for day, wide, green, red, pink in zip(day_start, day_widths, day_green, day_red, day_pink):
    ax_bot.hlines(green, day, day + wide, color='#008000', lw=0.9, zorder=4)
    ax_bot.hlines(red, day, day + wide, color='#E00000', lw=0.9, zorder=4)
    ax_bot.hlines(pink, day, day + wide, color='#FF69B4', lw=0.9, zorder=4)
ax_bot.hlines(78.86, 152, 160, color='#0000FF', lw=0.9, zorder=4)
ax_bot.hlines(74.44, -1, 2, color='#008000', lw=0.9, zorder=4)
ax_bot.hlines(73.79, -1, 2, color='#E00000', lw=0.9, zorder=4)
ax_bot.hlines(73.60, -1, 2, color='#FF69B4', lw=0.9, zorder=4)

ax_bot.plot(bottom_black_bar, bottom_black_price, ls='none', marker=head, ms=5, color='black', zorder=5)
ax_bot.plot(bottom_magenta_bar, bottom_magenta_price, ls='none', marker=head_left, ms=5, color='#FF00FF', zorder=5)

draw_labels(ax_bot, bottom_labels)

# bracket box and note
ax_bot.add_patch(Rectangle((116.4, 78.05), 44.1, 1.38, fill=False, edgecolor='black', lw=0.9, zorder=6.2))
ax_bot.add_patch(Rectangle((151.5, 79.32), 11.4, 0.83, facecolor='white', edgecolor='none', zorder=6.5))
ax_bot.text(151.6, 80.11, note_text, color='black', fontsize=8.3, ha='left', va='top', linespacing=1.12, zorder=6.6)

ax_bot.text(3 / 1662.6, 0.9625, bottom_legend, transform=ax_bot.transAxes, color=LIGHT, fontsize=7.9, ha='left', va='center',
            zorder=6)
ax_bot.text(3 / 1662.6, 0.0135, "© 2010 NinjaTrader, LLC", transform=ax_bot.transAxes, color=LIGHT, fontsize=8, ha='left',
            va='center', zorder=6)

draw_tags(ax_bot, bottom_tags, 0.085)

ax_bot.set_xticks([d + 1 for d in day_start], day_labels)
ax_bot.set_yticks(bottom_ticks, [f"{t:g}" for t in bottom_ticks])
ax_bot.yaxis.tick_right()
ax_bot.tick_params(axis='y', length=4.3, width=0.8, color=LIGHT, labelcolor=LIGHT, labelsize=8.5, pad=2)
ax_bot.tick_params(axis='x', length=4, width=0.8, color=LIGHT, labelcolor=LIGHT, labelsize=8, pad=2)

# =====================================================
# Title and outer border
# =====================================================

fig.text(853 / 1712, 1 - 13 / 970, "CL 09-10 (30 Min)  7/27/2010", color='black', fontsize=11, ha='center', va='center')
fig.add_artist(Line2D([0, 1], [1.5 / 970, 1.5 / 970], color=LIGHT, lw=0.9))
fig.add_artist(Line2D([1 / 1712, 1 / 1712], [0, 1 - 27.5 / 970], color=LIGHT, lw=0.9))

fig.savefig("out.png", dpi=100, facecolor=BG)
